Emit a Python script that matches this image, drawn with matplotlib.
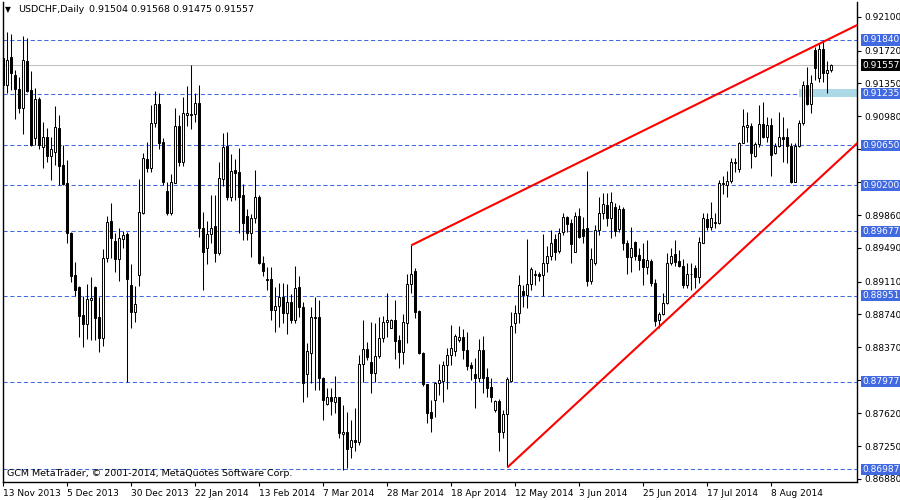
import matplotlib
matplotlib.use("Agg")
import matplotlib.pyplot as plt
from matplotlib.transforms import blended_transform_factory
from matplotlib.patches import Rectangle

plt.rcParams['font.family'] = ['DejaVu Sans']
plt.rcParams['lines.scale_dashes'] = False

symbol_title = "USDCHF,Daily"
ohlc_title = "0.91504 0.91568 0.91475 0.91557"
copyright_text = "GCM MetaTrader, \u00a9 2001-2014, MetaQuotes Software Corp."

opens = [
    0.9164, 0.9133, 0.9165, 0.9144, 0.9129, 0.9107, 0.9160, 0.9128, 0.9073, 0.9117,
    0.9063, 0.9074, 0.9053, 0.9057, 0.9085, 0.9043, 0.9022, 0.8966, 0.8918, 0.8905,
    0.8873, 0.8863, 0.8890, 0.8905, 0.8871, 0.8847, 0.8938, 0.8979, 0.8957, 0.8937,
    0.8959, 0.8965, 0.8907, 0.8877, 0.8918, 0.8989, 0.9050, 0.9039, 0.9090, 0.9112,
    0.9069, 0.9013, 0.8989, 0.9022, 0.9087, 0.9046, 0.9099, 0.9099, 0.9100, 0.9113,
    0.8972, 0.8949, 0.8965, 0.8974, 0.8943, 0.9027, 0.9064, 0.9007, 0.9037, 0.9035,
    0.9009, 0.8985, 0.8966, 0.8983, 0.9006, 0.8932, 0.8914, 0.8914, 0.8879, 0.8883,
    0.8894, 0.8876, 0.8888, 0.8868, 0.8905, 0.8882, 0.8807, 0.8830, 0.8870, 0.8871,
    0.8802, 0.8773, 0.8780, 0.8775, 0.8780, 0.8739, 0.8741, 0.8724, 0.8732, 0.8730,
    0.8818, 0.8835, 0.8820, 0.8808, 0.8827, 0.8847, 0.8865, 0.8859, 0.8868, 0.8845,
    0.8831, 0.8864, 0.8908, 0.8923, 0.8878, 0.8830, 0.8795, 0.8764, 0.8777, 0.8796,
    0.8799, 0.8817, 0.8828, 0.8833, 0.8845, 0.8848, 0.8834, 0.8817, 0.8807, 0.8802,
    0.8834, 0.8803, 0.8792, 0.8766, 0.8776, 0.8741, 0.8761, 0.8799, 0.8864, 0.8876,
    0.8900, 0.8896, 0.8908, 0.8918, 0.8920, 0.8918, 0.8932, 0.8940, 0.8959, 0.8946,
    0.8967, 0.8984, 0.8977, 0.8944, 0.8985, 0.8970, 0.8972, 0.8912, 0.8932, 0.8969,
    0.8989, 0.8998, 0.8983, 0.8995, 0.8970, 0.8993, 0.8955, 0.8939, 0.8956, 0.8941,
    0.8937, 0.8928, 0.8934, 0.8909, 0.8868, 0.8874, 0.8887, 0.8932, 0.8942, 0.8934,
    0.8929, 0.8907, 0.8919, 0.8926, 0.8916, 0.8955, 0.8982, 0.8973, 0.8977, 0.8977,
    0.9021, 0.9020, 0.9025, 0.9045, 0.9038, 0.9068, 0.9086, 0.9087, 0.9053, 0.9066,
    0.9089, 0.9074, 0.9088, 0.9056, 0.9064, 0.9074, 0.9074, 0.9064, 0.9024, 0.9064,
    0.9090, 0.9133, 0.9112, 0.9173, 0.9141, 0.9174, 0.9147, 0.91504,
]
highs = [
    0.9195, 0.9193, 0.9191, 0.9150, 0.9142, 0.9189, 0.9186, 0.9149, 0.9130, 0.9119,
    0.9091, 0.9085, 0.9074, 0.9109, 0.9099, 0.9065, 0.9048, 0.8967, 0.8933, 0.8906,
    0.8895, 0.8908, 0.8916, 0.8906, 0.8893, 0.8948, 0.8985, 0.9000, 0.8966, 0.8972,
    0.8968, 0.8967, 0.8931, 0.8906, 0.9027, 0.9056, 0.9069, 0.9111, 0.9126, 0.9124,
    0.9073, 0.9024, 0.9033, 0.9107, 0.9099, 0.9119, 0.9132, 0.9156, 0.9124, 0.9133,
    0.8990, 0.8979, 0.9009, 0.9009, 0.9046, 0.9079, 0.9080, 0.9055, 0.9050, 0.9062,
    0.9021, 0.8993, 0.8987, 0.9037, 0.9009, 0.8940, 0.8928, 0.8928, 0.8905, 0.8909,
    0.8909, 0.8908, 0.8897, 0.8929, 0.8917, 0.8888, 0.8842, 0.8882, 0.8894, 0.8890,
    0.8803, 0.8791, 0.8791, 0.8804, 0.8781, 0.8772, 0.8764, 0.8755, 0.8768, 0.8828,
    0.8868, 0.8843, 0.8865, 0.8864, 0.8871, 0.8872, 0.8898, 0.8869, 0.8890, 0.8851,
    0.8874, 0.8920, 0.8952, 0.8926, 0.8879, 0.8831, 0.8795, 0.8777, 0.8798, 0.8818,
    0.8821, 0.8836, 0.8862, 0.8852, 0.8861, 0.8857, 0.8854, 0.8820, 0.8825, 0.8846,
    0.8850, 0.8813, 0.8802, 0.8777, 0.8778, 0.8766, 0.8803, 0.8877, 0.8885, 0.8918,
    0.8907, 0.8959, 0.8928, 0.8924, 0.8922, 0.8965, 0.8951, 0.8969, 0.8965, 0.8972,
    0.8989, 0.8985, 0.8982, 0.8990, 0.8994, 0.8984, 0.9036, 0.8949, 0.8975, 0.9007,
    0.9011, 0.9011, 0.9012, 0.9000, 0.8998, 0.8995, 0.8958, 0.8973, 0.8957, 0.8949,
    0.8955, 0.8958, 0.8937, 0.8914, 0.8877, 0.8898, 0.8943, 0.8949, 0.8958, 0.8947,
    0.8937, 0.8932, 0.8932, 0.8930, 0.8961, 0.8989, 0.8989, 0.9001, 0.8989, 0.9026,
    0.9030, 0.9036, 0.9051, 0.9051, 0.9069, 0.9106, 0.9103, 0.9090, 0.9069, 0.9111,
    0.9114, 0.9097, 0.9096, 0.9068, 0.9103, 0.9097, 0.9085, 0.9068, 0.9068, 0.9094,
    0.9138, 0.9153, 0.9144, 0.9176, 0.9181, 0.9184, 0.9160, 0.91568,
]
lows = [
    0.9124, 0.9124, 0.9128, 0.9095, 0.9102, 0.9078, 0.9125, 0.9064, 0.9065, 0.9061,
    0.9039, 0.9046, 0.9026, 0.9043, 0.9020, 0.9020, 0.8955, 0.8911, 0.8895, 0.8848,
    0.8837, 0.8846, 0.8845, 0.8845, 0.8831, 0.8838, 0.8933, 0.8938, 0.8922, 0.8912,
    0.8949, 0.8798, 0.8859, 0.8865, 0.8906, 0.8987, 0.9035, 0.9035, 0.9086, 0.9061,
    0.9020, 0.8986, 0.8986, 0.9022, 0.9042, 0.9042, 0.9087, 0.9083, 0.9091, 0.8961,
    0.8902, 0.8931, 0.8955, 0.8933, 0.8941, 0.9019, 0.9003, 0.9002, 0.9003, 0.8966,
    0.8958, 0.8958, 0.8939, 0.8977, 0.8931, 0.8917, 0.8902, 0.8868, 0.8854, 0.8860,
    0.8864, 0.8852, 0.8864, 0.8864, 0.8871, 0.8775, 0.8781, 0.8796, 0.8789, 0.8789,
    0.8755, 0.8772, 0.8760, 0.8763, 0.8734, 0.8698, 0.8700, 0.8712, 0.8720, 0.8726,
    0.8798, 0.8822, 0.8785, 0.8798, 0.8825, 0.8843, 0.8848, 0.8859, 0.8824, 0.8813,
    0.8818, 0.8842, 0.8898, 0.8870, 0.8829, 0.8793, 0.8751, 0.8741, 0.8758, 0.8783,
    0.8775, 0.8790, 0.8817, 0.8827, 0.8843, 0.8824, 0.8811, 0.8800, 0.8768, 0.8798,
    0.8785, 0.8781, 0.8775, 0.8764, 0.8720, 0.8734, 0.8701, 0.8798, 0.8853, 0.8864,
    0.8882, 0.8881, 0.8902, 0.8907, 0.8912, 0.8895, 0.8922, 0.8935, 0.8935, 0.8943,
    0.8964, 0.8967, 0.8932, 0.8944, 0.8960, 0.8955, 0.8906, 0.8908, 0.8930, 0.8964,
    0.8982, 0.8974, 0.8960, 0.8963, 0.8967, 0.8947, 0.8920, 0.8922, 0.8935, 0.8924,
    0.8907, 0.8920, 0.8906, 0.8861, 0.8859, 0.8873, 0.8886, 0.8930, 0.8929, 0.8928,
    0.8904, 0.8904, 0.8902, 0.8904, 0.8909, 0.8955, 0.8969, 0.8969, 0.8972, 0.8976,
    0.9010, 0.9007, 0.9022, 0.9035, 0.9035, 0.9068, 0.9069, 0.9039, 0.9052, 0.9063,
    0.9073, 0.9069, 0.9030, 0.9055, 0.9063, 0.9046, 0.9045, 0.9022, 0.9024, 0.9063,
    0.9088, 0.9111, 0.9102, 0.9139, 0.9137, 0.9137, 0.9124, 0.91475,
]
closes = [
    0.9133, 0.9161, 0.9147, 0.9129, 0.9107, 0.9161, 0.9126, 0.9065, 0.9117, 0.9065,
    0.9074, 0.9053, 0.9061, 0.9086, 0.9042, 0.9021, 0.8966, 0.8917, 0.8902, 0.8872,
    0.8863, 0.8891, 0.8892, 0.8870, 0.8847, 0.8938, 0.8978, 0.8960, 0.8937, 0.8960,
    0.8964, 0.8914, 0.8877, 0.8886, 0.8990, 0.9051, 0.9039, 0.9090, 0.9112, 0.9068,
    0.9024, 0.8989, 0.9024, 0.9087, 0.9046, 0.9102, 0.9102, 0.9100, 0.9113, 0.8972,
    0.8944, 0.8965, 0.8972, 0.8943, 0.9028, 0.9063, 0.9007, 0.9036, 0.9034, 0.9007,
    0.8977, 0.8966, 0.8983, 0.9006, 0.8932, 0.8923, 0.8913, 0.8879, 0.8883, 0.8894,
    0.8876, 0.8888, 0.8868, 0.8904, 0.8882, 0.8796, 0.8833, 0.8871, 0.8871, 0.8802,
    0.8777, 0.8780, 0.8776, 0.8780, 0.8740, 0.8741, 0.8722, 0.8732, 0.8730, 0.8818,
    0.8835, 0.8826, 0.8808, 0.8827, 0.8847, 0.8865, 0.8868, 0.8868, 0.8844, 0.8831,
    0.8865, 0.8908, 0.8920, 0.8877, 0.8830, 0.8795, 0.8763, 0.8757, 0.8796, 0.8800,
    0.8817, 0.8828, 0.8836, 0.8850, 0.8848, 0.8834, 0.8816, 0.8813, 0.8802, 0.8834,
    0.8802, 0.8791, 0.8780, 0.8776, 0.8741, 0.8761, 0.8801, 0.8861, 0.8876, 0.8907,
    0.8896, 0.8908, 0.8925, 0.8920, 0.8917, 0.8932, 0.8940, 0.8955, 0.8944, 0.8966,
    0.8984, 0.8976, 0.8954, 0.8985, 0.8961, 0.8963, 0.8912, 0.8937, 0.8969, 0.8989,
    0.8999, 0.8983, 0.9001, 0.8968, 0.8993, 0.8955, 0.8939, 0.8949, 0.8940, 0.8935,
    0.8928, 0.8935, 0.8909, 0.8866, 0.8874, 0.8887, 0.8932, 0.8940, 0.8933, 0.8929,
    0.8907, 0.8920, 0.8920, 0.8916, 0.8956, 0.8983, 0.8973, 0.8983, 0.8978, 0.9022,
    0.9022, 0.9025, 0.9046, 0.9046, 0.9068, 0.9087, 0.9088, 0.9056, 0.9066, 0.9089,
    0.9074, 0.9088, 0.9054, 0.9064, 0.9074, 0.9072, 0.9064, 0.9024, 0.9064, 0.9090,
    0.9133, 0.9112, 0.9135, 0.9152, 0.9174, 0.9147, 0.9150, 0.91557,
]

date_labels = ["13 Nov 2013", "5 Dec 2013", "30 Dec 2013", "22 Jan 2014", "13 Feb 2014",
               "7 Mar 2014", "28 Mar 2014", "18 Apr 2014", "12 May 2014", "3 Jun 2014",
               "25 Jun 2014", "17 Jul 2014", "8 Aug 2014"]
date_label_bars = [0, 16, 32, 48, 64, 80, 96, 112, 128, 144, 160, 176, 192]

price_ticks = [0.92100, 0.91720, 0.91350, 0.90980, 0.90610, 0.90240, 0.89860, 0.89490,
               0.89110, 0.88740, 0.88370, 0.88000, 0.87620, 0.87250, 0.86880]
level_prices = [0.91840, 0.91235, 0.90650, 0.90200, 0.89677, 0.88951, 0.87977, 0.86987]
current_price = 0.91557

upper_trend_bars = [102, 205]
upper_trend_prices = [0.8952, 0.9182]
lower_trend_bars = [126, 163]
lower_trend_prices = [0.8701, 0.8856]

zone_start_bar = 198.8
zone_low, zone_high = 0.9119, 0.9129

# ---------------------------------------------------------------
W, H = 900, 500
fig = plt.figure(figsize=(9, 5), dpi=100)
fig.patch.set_facecolor('white')
ax_left, ax_right, ax_top, ax_bottom = 2.5, 857, 2, 482
ax = fig.add_axes([ax_left / W, (H - ax_bottom) / H, (ax_right - ax_left) / W, (ax_bottom - ax_top) / H])
ax.set_facecolor('white')

n = len(opens)
x = list(range(n))
ax.set_xlim(-0.2, 213.4)
ax.set_ylim(0.86845, 0.92269)

blue = '#4169E1'
for lv in level_prices:
    ax.axhline(lv, color=blue, lw=0.75, linestyle=(0, (3.0, 1.9)), zorder=1)
ax.axhline(current_price, color='#C0C0C0', lw=0.75, zorder=1)

ax.add_patch(Rectangle((zone_start_bar, zone_low), 213.4 - zone_start_bar, zone_high - zone_low,
                       facecolor='#ADD8E6', edgecolor='none', zorder=1.5))

ax.vlines(x, lows, highs, color='black', lw=0.75, zorder=2)
bottoms = [min(o, c) for o, c in zip(opens, closes)]
heights = [abs(c - o) for o, c in zip(opens, closes)]
fills = ['white' if c >= o else 'black' for o, c in zip(opens, closes)]
ax.bar(x, heights, bottom=bottoms, width=0.52, color=fills, edgecolor='black',
       linewidth=0.7, zorder=3)

def ray(bars, prices, x_end):
    slope = (prices[1] - prices[0]) / (bars[1] - bars[0])
    return [bars[0], x_end], [prices[0], prices[0] + slope * (x_end - bars[0])]

for b, p in ((upper_trend_bars, upper_trend_prices), (lower_trend_bars, lower_trend_prices)):
    xs, ys = ray(b, p, 214)
    ax.plot(xs, ys, color='#FF0000', lw=1.5, zorder=4, solid_capstyle='butt')

# spines
ax.spines['top'].set_visible(False)
for s in ['left', 'right', 'bottom']:
    ax.spines[s].set_color('black')
    ax.spines[s].set_linewidth(1.0)

# y axis on the right (labels hidden behind level boxes are left blank)
def covered(v):
    return any(abs(v - lv) < 0.0008 for lv in level_prices + [current_price])

ax.yaxis.tick_right()
ax.set_yticks(price_ticks)
ax.set_yticklabels(['' if covered(v) else '%.5f' % v for v in price_ticks])
ax.tick_params(axis='y', which='both', direction='out', length=3, width=0.8, pad=2,
               labelsize=6.5, colors='black', left=False)
# x axis
ax.set_xticks(date_label_bars)
ax.set_xticklabels(date_labels, ha='left')
ax.tick_params(axis='x', direction='out', length=3, width=0.8, pad=2, labelsize=6.5,
               colors='black', top=False)

trans = blended_transform_factory(ax.transAxes, ax.transData)
lab_x = 1.0 + 5.0 / (ax_right - ax_left)
for lv in level_prices:
    ax.text(lab_x, lv, '%.5f' % lv, transform=trans, ha='left', va='center',
            fontsize=6.5, color='white', zorder=10, clip_on=False,
            bbox=dict(boxstyle='square,pad=0.12', fc=blue, ec='none'))
ax.text(lab_x, current_price, '%.5f' % current_price, transform=trans, ha='left', va='center',
        fontsize=6.5, color='white', zorder=10, clip_on=False,
        bbox=dict(boxstyle='square,pad=0.12', fc='black', ec='none'))

# header & footer
fig.text(5 / W, 1 - 10 / H, '\u25bc', fontsize=5.5, color='black', ha='left', va='center')
fig.text(18 / W, 1 - 10 / H, symbol_title, fontsize=6.8, color='black', ha='left', va='center')
fig.text(89 / W, 1 - 10 / H, ohlc_title, fontsize=6.8, color='black', ha='left', va='center')
fig.text(7 / W, 1 - 474 / H, copyright_text, fontsize=6.8, color='black', ha='left', va='center')

fig.savefig('out.png', dpi=100, facecolor='white')
